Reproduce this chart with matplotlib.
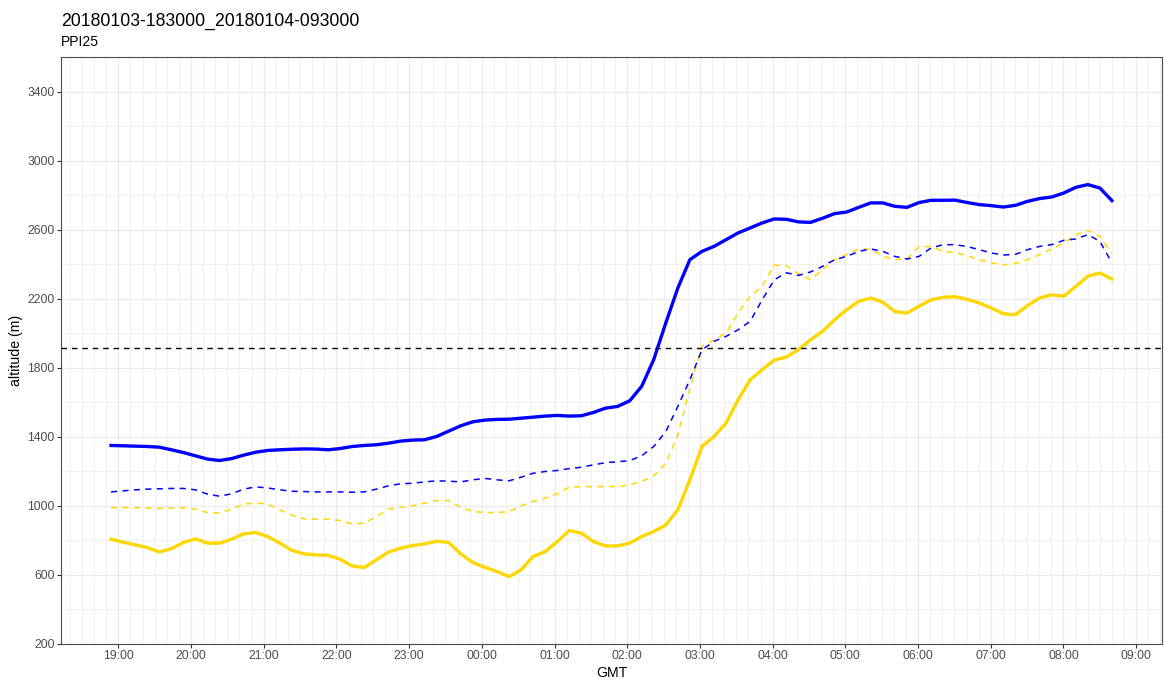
"""PPI25 altitude time series, 2018-01-03 18:30 -> 2018-01-04 09:30 (ggplot theme_bw look)."""

import matplotlib
matplotlib.use("Agg")
import matplotlib.pyplot as plt
import matplotlib.dates as mdates
import numpy as np
import pandas as pd

plt.rcParams["font.family"] = ["Liberation Sans", "DejaVu Sans"]

TITLE = "20180103-183000_20180104-093000"
SUBTITLE = "PPI25"

# ~10 min steps from 18:54 to 08:40
times = pd.date_range("2018-01-03 18:54", "2018-01-04 08:40", periods=84)

blue_solid = [
    1350, 1348, 1346, 1344, 1340, 1325, 1309, 1290, 1271, 1263,
    1274, 1294, 1311, 1321, 1325, 1328, 1330, 1329, 1325, 1332,
    1344, 1350, 1354, 1363, 1375, 1381, 1383, 1402, 1433, 1464,
    1487, 1497, 1501, 1502, 1508, 1514, 1520, 1524, 1520, 1522,
    1541, 1566, 1576, 1608, 1692, 1847, 2059, 2262, 2426, 2474,
    2503, 2542, 2581, 2610, 2639, 2662, 2660, 2645, 2642, 2666,
    2693, 2702, 2729, 2755, 2755, 2735, 2729, 2757, 2770, 2770,
    2771, 2757, 2745, 2739, 2731, 2741, 2764, 2780, 2789, 2812,
    2845, 2861, 2841, 2768,
]
blue_dash = [
    1081, 1087, 1093, 1097, 1099, 1101, 1101, 1093, 1068, 1056,
    1070, 1097, 1110, 1104, 1093, 1085, 1083, 1081, 1081, 1081,
    1079, 1081, 1097, 1116, 1128, 1131, 1139, 1145, 1143, 1139,
    1151, 1159, 1151, 1145, 1166, 1189, 1199, 1205, 1216, 1224,
    1238, 1250, 1256, 1262, 1290, 1344, 1430, 1576, 1731, 1904,
    1953, 1982, 2020, 2069, 2194, 2310, 2350, 2335, 2355, 2387,
    2426, 2445, 2474, 2488, 2474, 2445, 2430, 2445, 2494, 2513,
    2513, 2502, 2484, 2465, 2453, 2457, 2484, 2503, 2513, 2538,
    2546, 2571, 2532, 2407,
]
yellow_dash = [
    990, 990, 989, 987, 985, 987, 989, 981, 961, 958,
    981, 1010, 1017, 1010, 977, 945, 925, 923, 923, 915,
    896, 900, 938, 981, 992, 1000, 1016, 1031, 1031, 992,
    967, 962, 961, 967, 1000, 1025, 1045, 1070, 1108, 1112,
    1112, 1112, 1112, 1122, 1141, 1175, 1245, 1410, 1680, 1924,
    1962, 2001, 2117, 2214, 2272, 2395, 2390, 2345, 2310, 2368,
    2426, 2455, 2488, 2488, 2445, 2426, 2430, 2500, 2503, 2474,
    2467, 2449, 2426, 2407, 2397, 2403, 2426, 2455, 2488, 2523,
    2571, 2596, 2561, 2465,
]
yellow_solid = [
    807, 790, 774, 759, 733, 752, 788, 809, 784, 784,
    807, 838, 846, 822, 784, 742, 722, 716, 714, 691,
    652, 643, 687, 732, 755, 770, 780, 795, 788, 722,
    672, 644, 620, 590, 629, 707, 735, 793, 857, 842,
    793, 768, 768, 784, 822, 851, 890, 977, 1151, 1344,
    1402, 1479, 1615, 1731, 1789, 1845, 1862, 1905, 1962, 2011,
    2078, 2136, 2185, 2204, 2180, 2125, 2117, 2156, 2194, 2208,
    2212, 2196, 2175, 2146, 2113, 2107, 2160, 2204, 2223, 2214,
    2271, 2330, 2349, 2314,
]
threshold = 1915

y_ticks = list(range(200, 3401, 400))
y_minor = list(range(400, 3601, 400))

BLUE = "#0000FF"
GOLD = "#FFD700"
GRID = "#EBEBEB"

W, H = 1164, 679
fig = plt.figure(figsize=(W / 100, H / 100), dpi=100)
ax = fig.add_axes([61 / W, 1 - 644 / H, (1162 - 61) / W, (644 - 57) / H])

ax.plot(times, yellow_solid, color=GOLD, lw=2.4, solid_joinstyle="round")
ax.plot(times, blue_solid, color=BLUE, lw=2.4, solid_joinstyle="round")
ax.plot(times, yellow_dash, color=GOLD, lw=1.1, dashes=(4, 3.5),
        dash_joinstyle="round")
ax.plot(times, blue_dash, color=BLUE, lw=1.1, dashes=(4, 3.5),
        dash_joinstyle="round")
ax.axhline(threshold, color="black", lw=1.0, dashes=(4, 3.5))

# ggplot-style 5% expansion on x, fixed y range
t0, t1 = mdates.date2num(times[0]), mdates.date2num(times[-1])
pad = 0.05 * (t1 - t0)
ax.set_xlim(t0 - pad, t1 + pad)
ax.set_ylim(200, 3600)

ax.xaxis.set_major_locator(mdates.HourLocator())
ax.xaxis.set_major_formatter(mdates.DateFormatter("%H:%M"))
ax.xaxis.set_minor_locator(mdates.MinuteLocator(byminute=[10, 20, 30, 40, 50]))
ax.set_yticks(y_ticks)
ax.set_yticks(y_minor, minor=True)

ax.grid(which="major", color=GRID, lw=0.9)
ax.grid(which="minor", color=GRID, lw=0.5)
ax.set_axisbelow(True)

ax.tick_params(which="major", length=2.6, width=0.8, color="#333333",
               labelsize=8.7, labelcolor="#4D4D4D", pad=2)
ax.tick_params(which="minor", length=0)
for s in ax.spines.values():
    s.set_color("#4D4D4D")
    s.set_linewidth(0.8)

fig.text(61 / W, 1 - 26 / H, TITLE, fontsize=12.7, va="baseline", ha="left")
fig.text(61 / W, 1 - 46.5 / H, SUBTITLE, fontsize=10, va="baseline", ha="left")
fig.text(612 / W, 1 - 673 / H, "GMT", fontsize=10.2, va="center", ha="center")
fig.text(16 / W, 1 - 350 / H, "altitude (m)", fontsize=10.2, va="center",
         ha="center", rotation=90)

fig.savefig("out.png", dpi=100)
plt.close(fig)
